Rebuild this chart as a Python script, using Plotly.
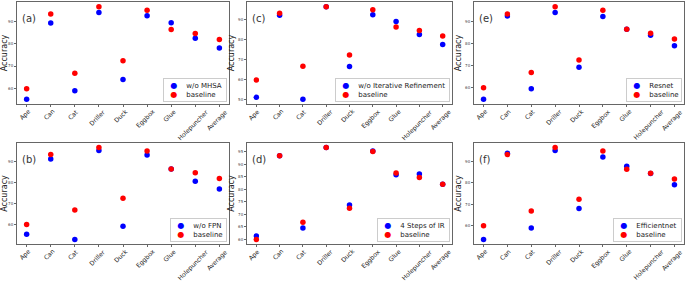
import plotly.graph_objects as go
from plotly.subplots import make_subplots

categories = ["Ape", "Can", "Cat", "Driller", "Duck", "Eggbox", "Glue", "Holepuncher", "Average"]
baseline = [59.9, 93.3, 66.8, 96.6, 72.4, 95.0, 86.4, 84.6, 81.9]

mhsa = [55.1, 89.3, 59.0, 94.0, 64.0, 92.5, 89.4, 82.4, 78.1]
iter_ref = [51.2, 92.3, 50.2, 96.5, 66.7, 92.6, 89.2, 82.7, 77.7]
resnet = [54.6, 92.4, 59.4, 93.9, 69.2, 92.1, 86.4, 83.6, 78.9]
fpn = [55.3, 91.1, 52.8, 95.2, 59.1, 93.1, 86.4, 80.6, 76.9]
ir4 = [61.3, 93.3, 64.5, 96.6, 73.7, 95.2, 85.7, 86.0, 81.9]
effnet = [53.5, 94.0, 58.9, 95.2, 68.0, 92.2, 87.8, 84.4, 79.2]

panel_labels = ["(a)", "(c)", "(e)", "(b)", "(d)", "(f)"]
series_names = ["w/o MHSA", "w/o Iterative Refinement", "Resnet", "w/o FPN", "4 Steps of IR", "Efficientnet"]
series_values = [mhsa, iter_ref, resnet, fpn, ir4, effnet]
y_dticks = [10, 10, 10, 10, 5, 10]

BLUE = "#0000ff"
RED = "#ff0000"

fig = make_subplots(rows=2, cols=3)

x_domains = [(17 / 685, 229 / 685), (247 / 685, 452 / 685), (474 / 685, 684 / 685)]
y_domains = [(1 - 104 / 282, 1 - 2 / 282), (1 - 244 / 282, 1 - 143 / 282)]

xi = list(range(len(categories)))
NB = "\u00a0"

for k in range(6):
    r, c = divmod(k, 3)
    ax = k + 1
    xa = "x" if ax == 1 else f"x{ax}"
    ya = "y" if ax == 1 else f"y{ax}"
    vals = series_values[k]
    fig.add_trace(go.Scatter(x=xi, y=vals, mode="markers", name=series_names[k],
                             marker=dict(color=BLUE, size=5.5), showlegend=False),
                  row=r + 1, col=c + 1)
    fig.add_trace(go.Scatter(x=xi, y=baseline, mode="markers", name="baseline",
                             marker=dict(color=RED, size=5.5), showlegend=False),
                  row=r + 1, col=c + 1)
    allv = vals + baseline
    lo, hi = min(allv), max(allv)
    pad = 0.05 * (hi - lo)
    xpad = 0.05 * (len(categories) - 1)
    axis_common = dict(showline=True, linecolor="#666", linewidth=1, mirror=True,
                       ticks="outside", ticklen=2, tickcolor="#666", showgrid=False,
                       zeroline=False)
    fig.update_xaxes(domain=x_domains[c], range=[-xpad, len(categories) - 1 + xpad],
                     tickmode="array", tickvals=xi, showticklabels=False,
                     row=r + 1, col=c + 1, **axis_common)
    fig.update_yaxes(domain=y_domains[r], range=[lo - pad, hi + pad], dtick=y_dticks[k],
                     tickfont=dict(size=4, color="#444"),
                     title=dict(text="Accuracy", font=dict(size=8, color="#222"), standoff=2),
                     row=r + 1, col=c + 1, **axis_common)
    # rotated category labels (centered like matplotlib rotation=45)
    for i, cat in enumerate(categories):
        fig.add_annotation(x=i, y=0, xref=xa, yref=f"{ya} domain", text=cat,
                           textangle=-45, xanchor="center", yanchor="top",
                           yshift=-1, xshift=-2,
                           showarrow=False, font=dict(size=6.2, color="#222"))
    # panel label
    fig.add_annotation(x=0, y=1, xref=f"{xa} domain", yref=f"{ya} domain",
                       text=panel_labels[k], xanchor="left", yanchor="top",
                       xshift=3, yshift=-9, showarrow=False,
                       font=dict(size=10, color="#333"))
    # legend box
    legend_text = (f"{NB*2}<span style='color:{BLUE};font-size:8px'>●</span>{NB*4}{series_names[k]}{NB}<br>"
                   f"{NB*2}<span style='color:{RED};font-size:8px'>●</span>{NB*4}baseline")
    fig.add_annotation(x=1, y=0, xref=f"{xa} domain", yref=f"{ya} domain",
                       text=legend_text, align="left", xanchor="right", yanchor="bottom",
                       xshift=-2, yshift=2, showarrow=False,
                       bordercolor="#cccccc", borderwidth=1, borderpad=2, bgcolor="white",
                       font=dict(size=7, color="#222"))

fig.update_layout(width=685, height=282, margin=dict(l=0, r=0, t=0, b=0),
                  paper_bgcolor="white", plot_bgcolor="white",
                  font=dict(family="DejaVu Sans"), showlegend=False)

fig.write_html("out.html", config={"displayModeBar": False},
               post_script="document.body.style.margin='0';document.body.style.overflow='hidden';")
